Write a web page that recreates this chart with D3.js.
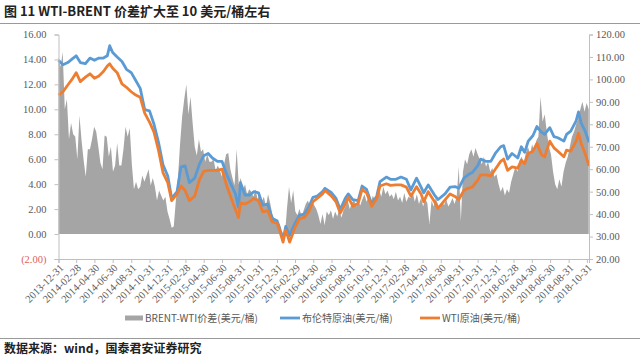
<!DOCTYPE html>
<html><head><meta charset="utf-8">
<script src="https://cdn.jsdelivr.net/npm/d3@7"></script>
<style>body{margin:0;background:#fff}svg{display:block}</style>
</head><body><svg id="c" width="640" height="356"></svg>
<script>
const titleText = "图 11 WTI-BRENT 价差扩大至 10 美元/桶左右";
const sourceText = "数据来源：wind，国泰君安证券研究";
const legendLabels = ["BRENT-WTI价差(美元/桶)", "布伦特原油(美元/桶)", "WTI原油(美元/桶)"];
const xTickLabels = ["2013-12-31","2014-02-28","2014-04-30","2014-06-30","2014-08-31","2014-10-31","2014-12-31",
"2015-02-28","2015-04-30","2015-06-30","2015-08-31","2015-10-31","2015-12-31",
"2016-02-29","2016-04-30","2016-06-30","2016-08-31","2016-10-31","2016-12-31",
"2017-02-28","2017-04-30","2017-06-30","2017-08-31","2017-10-31","2017-12-31",
"2018-02-28","2018-04-30","2018-06-30","2018-08-31","2018-10-31"];
const leftTicks = [-2,0,2,4,6,8,10,12,14,16];
const rightTicks = [20,30,40,50,60,70,80,90,100,110,120];

const lineDates = ["2013-12-31","2014-01-15","2014-01-31","2014-02-14","2014-02-28","2014-03-14","2014-03-31","2014-04-15","2014-04-30","2014-05-15","2014-05-30","2014-06-12","2014-06-20","2014-06-30","2014-07-15","2014-07-31","2014-08-15","2014-08-31","2014-09-15","2014-09-30","2014-10-15","2014-10-31","2014-11-15","2014-11-30","2014-12-15","2014-12-31",
"2015-01-13","2015-01-31","2015-02-13","2015-02-27","2015-03-13","2015-03-31","2015-04-15","2015-04-30","2015-05-15","2015-05-29","2015-06-15","2015-06-30","2015-07-15","2015-07-31","2015-08-14","2015-08-24","2015-08-31","2015-09-15","2015-09-30","2015-10-15","2015-10-30","2015-11-13","2015-11-30","2015-12-15","2015-12-31",
"2016-01-08","2016-01-20","2016-01-29","2016-02-11","2016-02-29","2016-03-15","2016-03-31","2016-04-15","2016-04-29","2016-05-13","2016-05-31","2016-06-08","2016-06-30","2016-07-15","2016-07-29","2016-08-15","2016-08-25","2016-09-09","2016-09-27","2016-10-10","2016-10-25","2016-11-11","2016-11-28","2016-12-09","2016-12-30",
"2017-01-13","2017-01-31","2017-02-17","2017-03-07","2017-03-22","2017-04-10","2017-04-25","2017-05-04","2017-05-19","2017-06-09","2017-06-21","2017-07-14","2017-07-31","2017-08-18","2017-08-29","2017-09-15","2017-09-29","2017-10-13","2017-10-31","2017-11-10","2017-11-27","2017-12-14","2017-12-29",
"2018-01-16","2018-01-26","2018-02-08","2018-02-23","2018-03-14","2018-03-26","2018-04-06","2018-04-18","2018-05-04","2018-05-17","2018-06-01","2018-06-12","2018-06-29","2018-07-13","2018-07-26","2018-08-15","2018-08-24","2018-09-07","2018-09-25","2018-10-03","2018-10-12","2018-10-25","2018-11-07"];

const brent = [108.5,106.5,107.5,109,110.5,107.5,107,109.5,108.5,109.5,109.5,110.5,115,112,110,108,104.5,103,99.5,96,86.5,86,80,72,62,57,
47,50,61,61.5,54,56,62,66,67,65,63.5,63.5,58,53,49,43,54,48.5,48.5,50,49.5,44,44.5,38,37,
34,28.5,34.5,30.5,36,39.5,40,43,47.5,48,50,51.5,49.5,47,42,47,49,46.5,46,52.5,51,44.5,48,54.5,56.5,
55.5,55.5,56.5,55.5,50.8,56,52,49.5,53,48.5,46.5,49,52,52.2,51.5,56,57.5,58.5,61.5,64.5,63.5,63.5,67,
70,70.5,64.5,67,65,70,67.5,72.5,75,79,76.5,75.5,78.5,74.5,74,72.5,75.5,77,81.5,85.5,80.5,77,72];

const wti = [93,94.5,97.5,100,103,99,101,102.5,100.5,101.5,103.5,106,107,105,103,98,96.5,94.5,93,92,85,81,76.5,68.5,58.5,54,
46,49,52.5,50.5,46,48,55,59,59.5,59.5,59.5,60,53,47,42,38.5,45,44.5,45.5,47,46,41,41.5,36.5,36,
33,27.5,33,27.5,34,38,38.5,41,45.5,47,49,50.5,48,45.5,40.5,44.5,47.5,43.5,44.8,51,49.5,43.5,47,52.5,53.5,
52.8,53,53,52,48,52.2,49,45.5,50,45.5,42.5,46.3,49,47.7,46.5,50.5,51.5,52,55,57.5,57.5,57,60,
63.5,64.5,59.5,61,60.5,64,62.5,67,68,71.5,66.5,65.5,72.5,69.5,68,65.5,68.5,68,72.5,76,71.5,67,61.5];

// weekly BRENT-WTI spread, first week 2013-12-31
const spreadStart = "2013-12-31";
const spread = [14.2,13.4,14.6,10.0,10.8,7.6,8.9,8.0,7.8,6.0,
9.5,7.5,5.9,4.6,6.8,6.8,7.6,8.6,8.2,7.0,
5.7,5.2,7.9,7.8,6.2,7.0,5.0,5.5,7.3,5.5,
5.5,6.8,8.6,7.8,8.5,5.6,3.6,4.2,3.6,3.8,
4.7,4.2,4.7,5.2,3.9,4.5,3.8,2.7,3.5,3.1,
2.7,3.0,1.8,1.2,0.5,0.6,2.7,4.5,7.2,9.4,
10.8,12.0,9.6,11.0,8.9,7.0,6.3,7.6,6.6,6.8,
5.8,6.4,5.8,5.8,6.0,5.1,5.5,5.1,4.6,5.6,
6.4,6.5,5.2,4.5,3.9,6.8,4.0,
4.5,3.5,4.0,3.2,3.6,3.4,3.0,3.6,2.8,3.3,2.6,
3.0,2.2,3.2,2.5,1.6,1.2,0.8,0.6,0.3,0.1,-0.2,2.0,
3.8,2.5,3.5,1.8,1.5,2.0,1.4,1.9,2.4,2.7,2.2,2.6,2.3,2.0,
1.5,0.8,1.6,0.7,1.8,1.5,1.9,1.2,1.8,1.4,2.0,1.3,1.9,
2.2,2.7,2.0,2.5,2.8,2.2,2.6,2.3,2.8,3.2,2.6,3.0,2.5,3.1,2.7,3.3,
3.6,3.0,3.8,3.2,3.5,3.0,3.2,2.8,3.4,2.7,3.0,2.5,3.3,2.6,3.0,2.9,
3.4,2.6,3.2,2.4,2.9,2.2,2.8,2.5,0.8,
2.7,2.2,2.9,2.4,2.0,2.6,2.3,2.8,2.2,2.5,2.9,2.4,3.0,
5.4,1.0,5.0,6.0,5.6,6.4,6.8,6.2,6.9,
6.4,6.0,5.6,6.2,5.4,5.8,5.0,5.3,4.6,4.8,
4.0,3.4,3.8,3.1,3.6,3.3,
4.2,4.8,5.4,5.0,5.9,6.2,5.7,6.5,7.0,6.4,
7.2,6.6,7.5,7.8,11.0,9.0,9.6,8.2,7.0,6.4,
5.0,4.0,3.6,4.4,3.8,5.0,5.7,
6.2,7.0,7.8,8.2,8.8,9.2,10.0,10.6,9.8,10.5,10.0];

const parse = d3.timeParse("%Y-%m-%d");
const svg = d3.select("#c");
const W = 640, H = 356;
const X0 = 58.5, X1 = 589, YT = 34.5, YB = 259;

const x = d3.scaleTime().domain([parse("2013-12-31"), parse("2018-11-07")]).range([X0, X1]);
const yL = d3.scaleLinear().domain([-2, 16]).range([YB, YT]);
const yR = d3.scaleLinear().domain([20, 120]).range([YB, YT]);

const s0 = parse(spreadStart);
const spreadData = spread.map((v, i) => ({d: d3.timeDay.offset(s0, 7 * i), v}));
const brentData = lineDates.map((d, i) => ({d: parse(d), v: brent[i]}));
const wtiData = lineDates.map((d, i) => ({d: parse(d), v: wti[i]}));

const GREY = "#A5A5A5", BLUE = "#5B9BD5", ORANGE = "#ED7D31";
const axisCol = "#BFBFBF", txtCol = "#595959";
const numFont = "'Liberation Serif', 'DejaVu Serif', serif";
const cjkFont = "'Noto Sans CJK SC', sans-serif";

// title
svg.append("text").attr("x", 4).attr("y", 16).attr("font-family", cjkFont).attr("font-weight", "bold")
  .attr("font-size", 13).attr("fill", "#222").text(titleText);
svg.append("line").attr("x1", 0).attr("x2", W).attr("y1", 23.5).attr("y2", 23.5).attr("stroke", "#9a9a9a").attr("stroke-width", 1.2);

// spread area
svg.append("path").datum(spreadData)
  .attr("d", d3.area().x(d => x(d.d)).y0(yL(0)).y1(d => yL(d.v)))
  .attr("fill", GREY);

// lines
const line = d3.line().x(d => x(d.d)).y(d => yR(d.v)).curve(d3.curveLinear);
svg.append("path").datum(brentData).attr("d", line).attr("fill", "none").attr("stroke", BLUE).attr("stroke-width", 2.8).attr("stroke-linejoin", "round");
svg.append("path").datum(wtiData).attr("d", line).attr("fill", "none").attr("stroke", ORANGE).attr("stroke-width", 2.8).attr("stroke-linejoin", "round");

// left axis
const fmt2 = d3.format(".2f");
const gL = svg.append("g").attr("transform", `translate(${X0},0)`)
  .call(d3.axisLeft(yL).tickValues(leftTicks).tickSize(4).tickPadding(8)
    .tickFormat(v => v < 0 ? `(${fmt2(-v)})` : fmt2(v)));
gL.select(".domain").attr("stroke", axisCol);
gL.selectAll(".tick line").attr("stroke", axisCol);
gL.selectAll(".tick text").attr("font-family", numFont).attr("font-size", 10.5)
  .attr("fill", v => v < 0 ? "#E06060" : txtCol);

// right axis
const gR = svg.append("g").attr("transform", `translate(${X1},0)`)
  .call(d3.axisRight(yR).tickValues(rightTicks).tickSize(4).tickPadding(3).tickFormat(fmt2));
gR.select(".domain").attr("stroke", axisCol);
gR.selectAll(".tick line").attr("stroke", axisCol);
gR.selectAll(".tick text").attr("font-family", numFont).attr("font-size", 10.5).attr("fill", txtCol);

// x axis
const gX = svg.append("g").attr("transform", `translate(0,${YB})`)
  .call(d3.axisBottom(x).tickValues(xTickLabels.map(parse)).tickSize(4).tickFormat(""));
gX.select(".domain").attr("stroke", axisCol);
gX.selectAll(".tick line").attr("stroke", axisCol);
svg.append("g").selectAll("text").data(xTickLabels).join("text")
  .attr("transform", d => `translate(${x(parse(d)) + 3},${YB + 7}) rotate(-45)`)
  .attr("text-anchor", "end").attr("dy", "0.35em")
  .attr("font-family", numFont).attr("font-size", 10.5).attr("fill", txtCol)
  .text(d => d);

// legend
const legY = 318;
const lg = svg.append("g");
const items = [
  {x: 125, type: "rect", color: GREY},
  {x: 280, type: "line", color: BLUE},
  {x: 420, type: "line", color: ORANGE}
];
items.forEach((it, i) => {
  if (it.type === "rect") {
    lg.append("rect").attr("x", it.x).attr("y", legY - 2.5).attr("width", 18).attr("height", 5).attr("fill", it.color);
  } else {
    lg.append("line").attr("x1", it.x).attr("x2", it.x + 20).attr("y1", legY).attr("y2", legY)
      .attr("stroke", it.color).attr("stroke-width", 2.8);
  }
  lg.append("text").attr("x", it.x + (it.type === "rect" ? 20 : 22)).attr("y", legY).attr("dy", "0.36em")
    .attr("font-family", cjkFont).attr("font-size", 10).attr("fill", txtCol).text(legendLabels[i]);
});

// footer
svg.append("line").attr("x1", 0).attr("x2", W).attr("y1", 338.5).attr("y2", 338.5).attr("stroke", "#9a9a9a").attr("stroke-width", 1.2);
svg.append("text").attr("x", 4).attr("y", 353).attr("font-family", cjkFont).attr("font-weight", "bold")
  .attr("font-size", 12).attr("fill", "#222").text(sourceText);
</script></body></html>
